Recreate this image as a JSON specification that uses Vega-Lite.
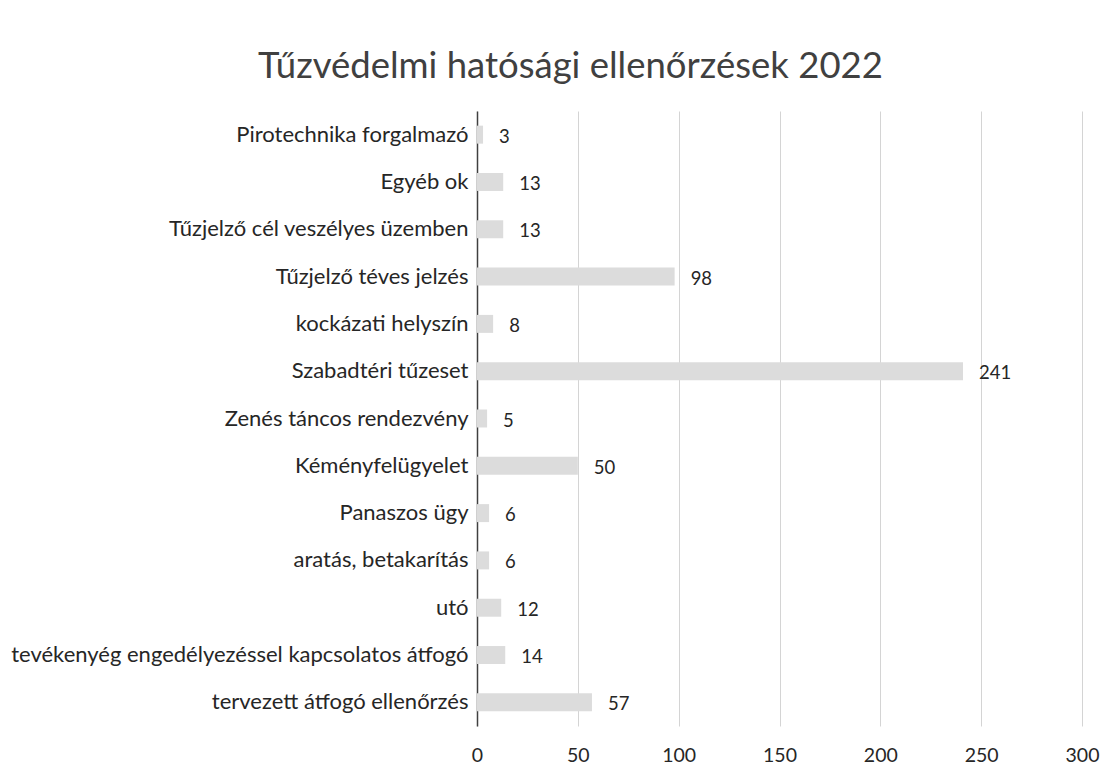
{
  "$schema": "https://vega.github.io/schema/vega-lite/v6.json",
  "width": 605,
  "height": 615,
  "autosize": {"type": "none"},
  "padding": {"left": 477, "top": 111, "right": 33, "bottom": 53},
  "background": "white",
  "title": {
    "text": "Tűzvédelmi hatósági ellenőrzések 2022",
    "font": "Lato",
    "fontSize": 36.5,
    "fontWeight": "normal",
    "color": "#404040",
    "anchor": "middle",
    "frame": "group",
    "dx": -209,
    "offset": 26
  },
  "data": {
    "values": [
      {"category": "Pirotechnika forgalmazó", "value": 3},
      {"category": "Egyéb ok", "value": 13},
      {"category": "Tűzjelző cél veszélyes üzemben", "value": 13},
      {"category": "Tűzjelző téves jelzés", "value": 98},
      {"category": "kockázati helyszín", "value": 8},
      {"category": "Szabadtéri tűzeset", "value": 241},
      {"category": "Zenés táncos rendezvény", "value": 5},
      {"category": "Kéményfelügyelet", "value": 50},
      {"category": "Panaszos ügy", "value": 6},
      {"category": "aratás, betakarítás", "value": 6},
      {"category": "utó", "value": 12},
      {"category": "tevékenyég engedélyezéssel kapcsolatos átfogó", "value": 14},
      {"category": "tervezett átfogó ellenőrzés", "value": 57}
    ]
  },
  "encoding": {
    "y": {
      "field": "category",
      "type": "nominal",
      "sort": null,
      "scale": {"paddingInner": 0.62, "paddingOuter": 0.31},
      "axis": {
        "title": null,
        "ticks": false,
        "labelFont": "Lato",
        "labelFontSize": 22,
        "labelColor": "#262626",
        "labelPadding": 9,
        "labelLimit": 480,
        "domain": true,
        "domainColor": "#404040",
        "domainWidth": 1.5
      }
    },
    "x": {
      "field": "value",
      "type": "quantitative",
      "scale": {"domain": [0, 300], "nice": false},
      "axis": {
        "title": null,
        "values": [0, 50, 100, 150, 200, 250, 300],
        "ticks": false,
        "domain": false,
        "grid": true,
        "gridColor": "#d4d4d4",
        "gridWidth": 1,
        "labelFlush": false,
        "labelFont": "Lato",
        "labelFontSize": 19.5,
        "labelColor": "#262626",
        "labelPadding": 20
      }
    }
  },
  "layer": [
    {
      "mark": {"type": "bar", "color": "#dcdcdc"}
    },
    {
      "mark": {
        "type": "text",
        "align": "left",
        "baseline": "middle",
        "dx": 16,
        "dy": 2,
        "font": "Lato",
        "fontSize": 18.5,
        "color": "#262626"
      },
      "encoding": {"text": {"field": "value", "type": "quantitative"}}
    }
  ],
  "config": {"view": {"stroke": null}}
}
